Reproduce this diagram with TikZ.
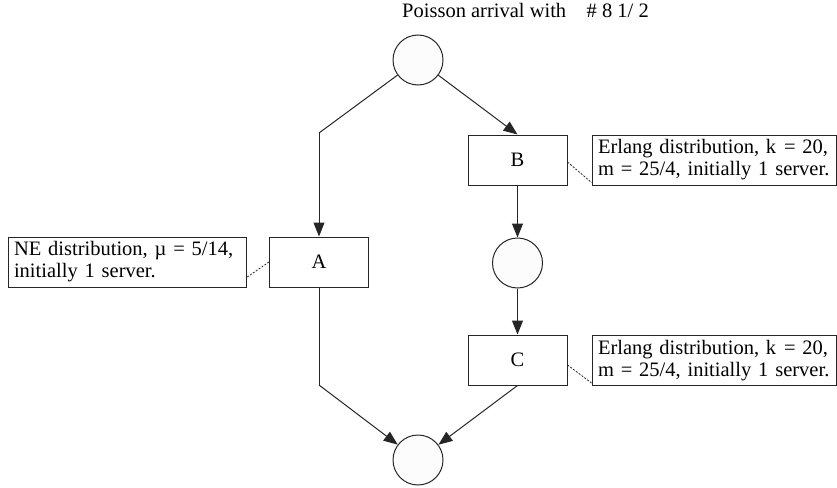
\documentclass[tikz,border=0pt]{standalone}
\usepackage{fontspec}
\setmainfont{Liberation Serif}
\usetikzlibrary{arrows.meta,calc}
\definecolor{ln}{HTML}{262626}
\definecolor{cf}{HTML}{FCFCFC}
\begin{document}
\begin{tikzpicture}[x=1pt,y=-1pt,
  every node/.style={font=\fontsize{20.5}{22}\selectfont},
  place/.style={circle,draw=ln,fill=cf,line width=1pt,minimum size=50pt,inner sep=0pt},
  task/.style={rectangle,draw=ln,fill=white,line width=1pt,minimum width=99pt,minimum height=50pt,inner sep=0pt},
  note/.style={rectangle,draw=ln,fill=white,line width=1pt,minimum height=50pt,inner xsep=6pt,inner ysep=0pt,align=left},
  flow/.style={draw=ln,line width=1pt,-{Triangle[length=14pt,width=11pt]}},
  plain/.style={draw=ln,line width=1pt},
  link/.style={draw=ln,line width=0.8pt,dash pattern=on 2pt off 1.5pt}]
\useasboundingbox (0,0) rectangle (837,487);
\node[anchor=base west,inner sep=0pt] (title) at (402,18) {Poisson arrival with\quad\# 8 1/ 2};
\node[place] (top) at (418,60) {};
\node[task] (B) at (517.5,160) {B};
\node[place] (mid) at (517.5,263) {};
\node[task] (C) at (517.5,360) {C};
\node[task] (A) at (319,262) {A};
\node[place] (bot) at (418,460) {};
\node[note,minimum width=238pt,text width=226pt] (NE) at (127,262) {NE distribution, \textmu{} = 5/14,\\initially 1 server.};
\node[note,minimum width=244pt,text width=232pt] (EB) at (714,160) {Erlang distribution, k\kern1pt{} = 20,\\m = 25/4, initially 1 server.};
\node[note,minimum width=244pt,text width=232pt] (EC) at (714,360.5) {Erlang distribution, k\kern1pt{} = 20,\\m = 25/4, initially 1 server.};
\coordinate (lc) at (319,133);
\coordinate (bc) at (319,385);
\draw[plain] (top) -- (lc);
\draw[flow] (lc) -- (A.north);
\draw[flow] (top) -- (B.north);
\draw[flow] (B.south) -- (mid);
\draw[flow] (mid) -- (C.north);
\draw[plain] (A.south) -- (bc);
\draw[flow] (bc) -- (bot);
\draw[flow] (C.south) -- (bot);
\draw[link] (A.west) -- ($(NE.south east)+(0,-10)$);
\draw[link] ($(B.east)+(0,2)$) -- ($(EB.south west)+(0,-3)$);
\draw[link] ($(C.east)+(0,5)$) -- ($(EC.south west)+(0,-3)$);
\end{tikzpicture}
\end{document}
